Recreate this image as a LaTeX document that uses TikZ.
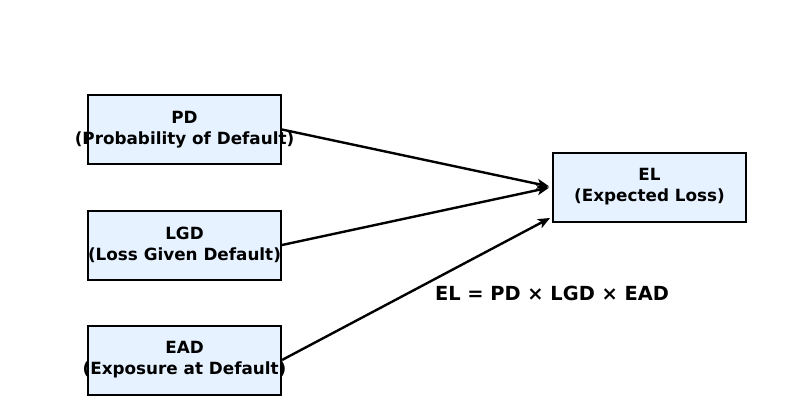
\documentclass[tikz,border=0pt]{standalone}
\usepackage{fontspec}
\setmainfont{DejaVu Sans}
\usetikzlibrary{arrows.meta}
\newcommand{\wideline}[1]{\makebox[0pt][c]{#1}}
\begin{document}
\begin{tikzpicture}[x=1pt,y=-1pt,
  box/.style={draw=black, line width=2pt, fill={rgb,255:red,230;green,242;blue,255},
    minimum width=193pt, minimum height=69pt, inner sep=0pt, align=center,
    font=\fontsize{16.8}{21}\selectfont\bfseries},
  conn/.style={line width=2.4pt, -{Stealth[length=12pt,width=10pt,inset=3pt]}}]
\useasboundingbox (0,0) rectangle (794,405);
\node[box] (pd) at (184.5,129.5) {PD\\\wideline{(Probability of Default)}};
\node[box] (lgd) at (184.5,245) {LGD\\\wideline{(Loss Given Default)}};
\node[box] (ead) at (184.5,360) {EAD\\\wideline{(Exposure at Default)}};
\node[box] (el) at (649.5,187) {EL\\\wideline{(Expected Loss)}};
\coordinate (elin) at (550,218);
\node[font=\fontsize{19.4}{23}\selectfont\bfseries] (f) at (552,293) {EL = PD × LGD × EAD};
\draw[conn, shorten >=3pt] (pd.east) -- (el.west);
\draw[conn, shorten >=3pt] (lgd.east) -- (el.west);
\draw[conn] (ead.east) -- (elin);
\end{tikzpicture}
\end{document}
